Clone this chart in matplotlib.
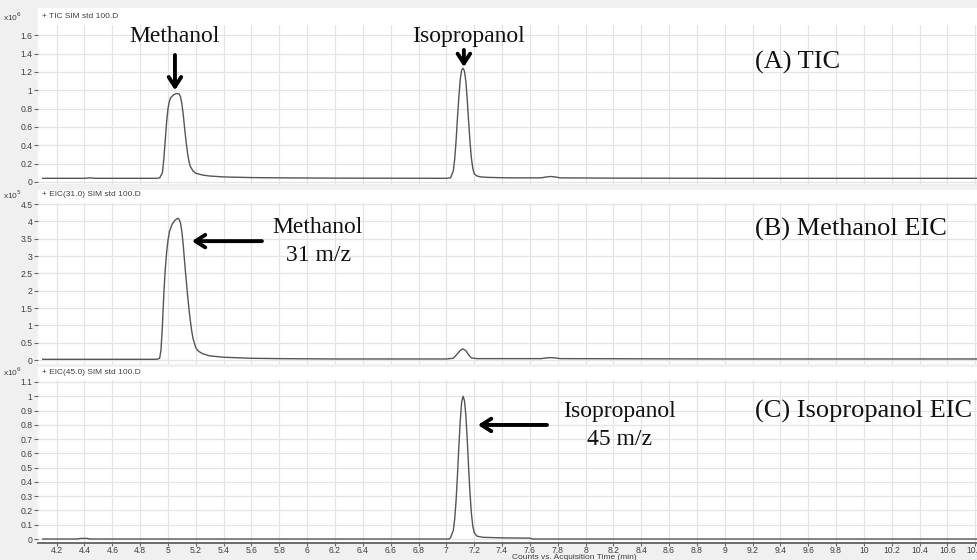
import matplotlib
matplotlib.use("Agg")
import matplotlib.pyplot as plt
from matplotlib.patches import Rectangle

# --- Data (x = min, y in panel scale units) ---
tic_time = [4.10, 4.40, 4.44, 4.48, 4.92, 4.94, 4.96, 4.97, 4.98, 4.99, 5.00, 5.01,
            5.02, 5.04, 5.06, 5.08, 5.09, 5.10, 5.11, 5.12, 5.13, 5.14, 5.15, 5.16,
            5.18, 5.20, 5.25, 5.30, 5.40, 5.60, 5.80, 6.20, 7.00, 7.03, 7.05, 7.06,
            7.07, 7.08, 7.09, 7.10, 7.11, 7.12, 7.13, 7.14, 7.15, 7.16, 7.17, 7.18,
            7.19, 7.20, 7.22, 7.25, 7.30, 7.45, 7.68, 7.72, 7.75, 7.78, 7.82, 8.20,
            9.00, 10.82]
tic_counts = [0.040, 0.040, 0.045, 0.040, 0.040, 0.045, 0.10, 0.25, 0.45, 0.65, 0.80, 0.88,
              0.92, 0.95, 0.965, 0.96, 0.93, 0.85, 0.73, 0.58, 0.44, 0.32, 0.23, 0.17,
              0.12, 0.095, 0.075, 0.065, 0.055, 0.048, 0.045, 0.042, 0.040, 0.045, 0.12, 0.25,
              0.45, 0.70, 0.93, 1.12, 1.22, 1.24, 1.21, 1.10, 0.90, 0.66, 0.44, 0.26,
              0.15, 0.09, 0.065, 0.055, 0.050, 0.045, 0.045, 0.055, 0.060, 0.055, 0.045, 0.042,
              0.040, 0.040]

eic31_time = [4.10, 4.60, 4.92, 4.94, 4.95, 4.96, 4.97, 4.98, 4.99, 5.00, 5.01, 5.03,
              5.05, 5.07, 5.08, 5.09, 5.10, 5.11, 5.12, 5.13, 5.14, 5.15, 5.16, 5.17,
              5.18, 5.20, 5.22, 5.25, 5.30, 5.40, 5.60, 5.80, 6.20, 7.00, 7.05, 7.08,
              7.10, 7.12, 7.14, 7.16, 7.18, 7.22, 7.68, 7.72, 7.75, 7.78, 7.82, 9.00,
              10.82]
eic31_counts = [0.02, 0.02, 0.02, 0.05, 0.30, 1.00, 1.90, 2.60, 3.10, 3.45, 3.70, 3.92,
                4.03, 4.09, 4.06, 3.95, 3.70, 3.30, 2.80, 2.35, 1.90, 1.50, 1.15, 0.85,
                0.62, 0.35, 0.25, 0.18, 0.12, 0.08, 0.05, 0.04, 0.03, 0.03, 0.05, 0.18,
                0.28, 0.32, 0.27, 0.15, 0.06, 0.04, 0.04, 0.06, 0.07, 0.06, 0.04, 0.03,
                0.03]

eic45_time = [4.10, 4.35, 4.37, 4.42, 4.44, 7.02, 7.03, 7.05, 7.06, 7.07, 7.08, 7.09,
              7.10, 7.11, 7.12, 7.13, 7.14, 7.15, 7.16, 7.17, 7.18, 7.19, 7.20, 7.22,
              7.26, 7.40, 7.60, 7.62, 10.82]
eic45_counts = [0.0, 0.0, 0.004, 0.004, 0.0, 0.0, 0.01, 0.06, 0.14, 0.27, 0.45, 0.65,
                0.83, 0.96, 1.00, 0.97, 0.87, 0.70, 0.50, 0.32, 0.18, 0.09, 0.045, 0.02,
                0.012, 0.008, 0.006, 0.0, 0.0]

x_ticks = [round(4.2 + 0.2 * i, 1) for i in range(34)]
tic_yticks = [0, 0.2, 0.4, 0.6, 0.8, 1, 1.2, 1.4, 1.6]
eic31_yticks = [0, 0.5, 1, 1.5, 2, 2.5, 3, 3.5, 4, 4.5]
eic45_yticks = [0, 0.1, 0.2, 0.3, 0.4, 0.5, 0.6, 0.7, 0.8, 0.9, 1, 1.1]

W, H = 978, 560
BG = "#f0f0f0"
TRACE = "#555555"
GRID = "#e4e4e4"
SERIF = "Liberation Serif"
SANS = "Liberation Sans"

fig = plt.figure(figsize=(W / 100, H / 100), dpi=100, facecolor=BG)


def fig_box(x0, y0, x1, y1):
    return [x0 / W, 1 - y1 / H, (x1 - x0) / W, (y1 - y0) / H]


def panel(white_top, top, bottom, ylim, yticks, exp, header, t, y, last=False):
    # white backing behind header + plot area
    bx = fig_box(38, white_top, W, bottom)
    fig.patches.append(Rectangle((bx[0], bx[1]), bx[2], bx[3], transform=fig.transFigure,
                                 facecolor="white", edgecolor="none", zorder=-5))
    ax = fig.add_axes(fig_box(38, top, W, bottom))
    ax.set_facecolor("white")
    ax.plot(t, y, color=TRACE, linewidth=1.0, zorder=3)
    ax.set_xlim(4.066, 10.82)
    ax.set_ylim(*ylim)
    ax.set_xticks(x_ticks)
    ax.set_yticks(yticks)
    ax.set_yticklabels([f"{v:g}" for v in yticks], fontsize=6.2, color="#404040",
                       family=SANS)
    ax.grid(True, color=GRID, linewidth=0.9, zorder=0)
    ax.set_axisbelow(True)
    for side in ("top", "right", "left"):
        ax.spines[side].set_visible(False)
    ax.tick_params(axis="y", length=3, width=0.8, color="#666666", pad=1)
    if last:
        ax.spines["bottom"].set_color("#606060")
        ax.spines["bottom"].set_linewidth(1.3)
        ax.tick_params(axis="x", length=2.5, width=0.8, color="#666666", pad=0,
                       labelsize=6.2, labelcolor="#404040")
        ax.set_xticklabels([f"{v:g}" for v in x_ticks], family=SANS)
    else:
        ax.spines["bottom"].set_visible(False)
        ax.tick_params(axis="x", length=0, labelbottom=False)
    hy = 1 - (top - 8) / H
    fig.text(3 / W, hy, "x10$^{%d}$" % exp, fontsize=6, color="#404040",
             family=SANS, va="center")
    fig.text(42 / W, hy, header, fontsize=6, color="#404040", family=SANS, va="center")
    return ax


ax_a = panel(8, 25, 184, (-0.022, 1.712), tic_yticks, 6, "+ TIC SIM std 100.D",
             tic_time, tic_counts)
ax_b = panel(190, 203, 364, (-0.115, 4.53), eic31_yticks, 5, "+ EIC(31.0) SIM std 100.D",
             eic31_time, eic31_counts)
ax_c = panel(367, 380, 543, (-0.028, 1.114), eic45_yticks, 6, "+ EIC(45.0) SIM std 100.D",
             eic45_time, eic45_counts, last=True)

fig.text(574 / W, 1 - 554 / H, "Counts vs. Acquisition Time (min)", fontsize=6,
         color="#404040", family=SANS, ha="center", va="top")

arrow = dict(arrowstyle="->,head_length=0.7,head_width=0.45", lw=2.8, color="black",
             shrinkA=0, shrinkB=0)
lab = dict(family=SERIF, fontsize=17, color="#111111", ha="center", va="baseline", zorder=5)
panel_lab = dict(family=SERIF, fontsize=19, color="#111111", ha="left", va="baseline",
                 zorder=5)

# (A) TIC
ax_a.text(5.05, 1.53, "Methanol", **lab)
ax_a.annotate("", xy=(5.05, 1.0), xytext=(5.05, 1.385), arrowprops=arrow)
ax_a.text(7.159, 1.53, "Isopropanol", **lab)
ax_a.annotate("", xy=(7.126, 1.254), xytext=(7.126, 1.44), arrowprops=arrow)
ax_a.text(9.217, 1.24, "(A) TIC", **panel_lab)

# (B) Methanol EIC
ax_b.text(6.078, 3.66, "Methanol", **lab)
ax_b.text(6.078, 2.86, "31 m/z", **lab)
ax_b.annotate("", xy=(5.172, 3.43), xytext=(5.675, 3.43), arrowprops=arrow)
ax_b.text(9.217, 3.6, "(B) Methanol EIC", **panel_lab)

# (C) Isopropanol EIC
ax_c.text(8.247, 0.855, "Isopropanol", **lab)
ax_c.text(8.247, 0.66, "45 m/z", **lab)
ax_c.annotate("", xy=(7.227, 0.799), xytext=(7.723, 0.799), arrowprops=arrow)
ax_c.text(9.217, 0.85, "(C) Isopropanol EIC", **panel_lab)

fig.savefig("out.png", dpi=100, facecolor=BG)
